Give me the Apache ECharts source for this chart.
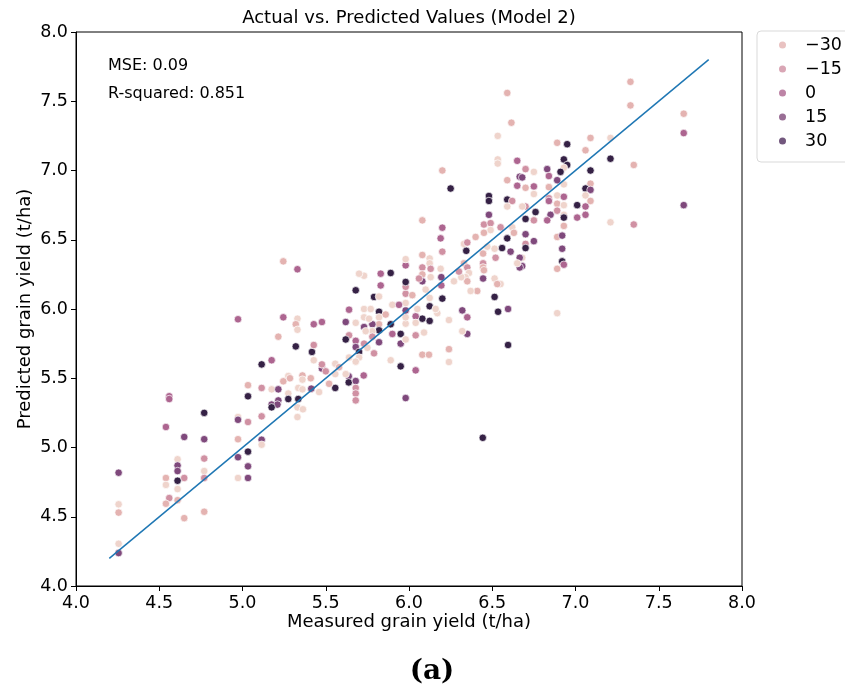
<!DOCTYPE html>
<html><head><meta charset="utf-8">
<script src="https://cdn.jsdelivr.net/npm/echarts@6/dist/echarts.min.js"></script>
<style>html,body{margin:0;padding:0;background:#fff}#c{width:845px;height:690px}</style>
</head><body><div id="c"></div>
<script>
// hue codes: L=-40 very light, P=-30, K=-15, M=0, U=15, X=38 darkest
const L=-40,P=-30,K=-15,M=0,U=15,X=38;
const measured = [6.59,6.615,6.533,6.533,6.533,6.65,6.20,6.25,6.665,6.65,6.48,6.48,6.59,6.59,6.62,6.59,6.48,
7.33,7.33,7.65,7.65,7.65,7.35,7.21,7.21,7.09,7.06,7.09,7.09,7.06,7.09,7.06,7.09,7.01,7.06,7.06,7.01,6.89,6.95,6.93,6.95,6.93,6.91,6.89,6.93,6.84,6.83,6.84,6.75,6.70,6.75,6.70,6.68,6.75,6.84,6.89,6.93,6.89,6.93,6.84,6.89,6.93,6.85,6.76,6.70,6.68,
6.70,6.75,6.83,6.93,7.21,7.35,6.93,6.70,6.75,6.70,6.70,6.89,6.92,6.92,6.92,6.93,6.89,6.89,6.68,6.68,
5.245,5.33,4.973,5.245,5.33,5.32,5.33,5.215,5.32,5.115,5.175,5.275,5.285,5.245,5.033,5.115,5.175,5.215,5.033,5.215,5.275,5.335,5.275,5.335,4.56,4.56,
4.77,4.54,4.65,4.77,4.973,4.973,5.033,5.115,5.175,5.21,5.175,5.33,5.33,5.115,5.115,4.973,5.033,4.973,5.033,5.033,4.973,4.77,4.77,4.77,4.77,4.65,4.65,4.61,4.61,4.61,4.61,4.61,4.61,4.56,4.54,4.54,4.54,4.256,4.256,4.256,4.256,4.256,
6.443,5.363,
6.08,6.20,6.19,6.20,6.45,6.49,6.49,6.45,6.55,6.59,6.62,6.63,6.33,6.35,6.344,6.514,6.559,6.61,6.665,6.665,6.65,6.33,6.35,6.36,6.34,6.35,6.314,6.445,6.445,6.445,6.514,6.55,6.53,6.445,6.41,6.37,6.514,6.595,6.535,6.595,6.32,6.35,6.35,6.32,6.24,6.24,6.24,6.20,6.17,6.194,6.194,6.19,
6.124,6.124,6.13,6.13,6.08,6.08,6.08,6.08,6.10,6.124,6.124,6.16,6.124,6.08,6.04,6.04,6.09,6.04,6.08,6.12,6.04,5.98,5.95,5.95,5.95,5.98,5.90,5.89,
5.98,5.98,5.98,5.98,5.98,5.98,5.98,5.98,5.98,5.89,5.83,5.83,5.73,5.70,5.68,5.79,5.82,5.90,5.94,5.82,5.82,5.82,5.89,5.78,5.82,5.82,5.78,5.78,5.79,5.73,5.75,5.73,5.77,5.73,5.73,5.74,5.68,5.64,5.62,5.64,5.62,5.68,5.68,5.70,5.70,5.68,5.64,5.557,5.557,5.557,5.638,5.638,5.68,5.68,5.68,5.68,5.728,5.62,5.477,5.477,5.428,5.417,5.428,5.428,5.477,5.36,5.41,5.36,5.413,5.36,
5.52,5.50,5.46,5.58,6.02,6.05,6.06,6.45,6.47,6.52,6.40,6.27,6.30,5.86,5.76];
const predicted = [7.56,7.345,7.25,7.08,7.05,7.07,7.00,6.87,6.955,6.89,6.816,6.78,6.79,6.93,6.78,6.74,6.68,
7.64,7.47,7.41,7.27,6.75,7.04,7.085,7.235,7.235,7.146,7.0,6.905,6.87,6.86,6.82,6.78,6.75,6.74,6.68,6.66,7.2,7.19,7.08,7.04,7.02,6.99,6.93,6.90,6.88,7.01,6.96,6.99,7.01,6.885,6.875,6.95,6.83,6.80,6.82,6.81,6.76,6.75,6.78,6.71,6.68,6.68,6.70,6.74,6.74,
6.65,6.64,6.64,6.66,6.626,6.61,6.60,6.54,6.49,6.47,6.44,6.52,6.53,6.435,6.344,6.32,6.29,5.97,6.37,6.31,
6.344,6.287,5.926,5.94,5.93,5.89,5.85,5.80,5.73,5.60,5.63,5.516,5.50,5.478,5.45,5.43,5.42,5.42,5.37,5.34,5.39,5.43,5.35,5.35,5.37,5.35,
5.25,5.148,5.076,5.06,5.22,5.20,5.184,5.225,5.31,5.31,5.29,5.29,5.22,5.056,5.02,5.06,4.97,4.93,4.864,4.78,4.78,4.92,4.83,4.78,4.536,4.49,4.78,4.915,4.87,4.83,4.76,4.70,4.62,4.635,4.594,4.78,4.73,4.818,4.59,4.53,4.305,4.238,
5.07,5.276,
6.64,6.587,6.51,6.414,6.61,6.62,6.57,6.55,6.59,6.51,6.59,6.55,6.47,6.48,6.42,6.435,6.44,6.414,6.37,6.30,6.33,6.33,6.30,6.26,6.23,6.20,6.23,6.40,6.33,6.30,6.22,6.18,6.18,6.22,6.13,6.13,6.087,6.0,5.98,5.74,5.99,5.94,5.82,5.84,5.92,5.71,5.617,6.075,5.97,6.17,6.23,6.29,
6.365,6.33,6.29,6.23,6.39,6.30,6.25,6.20,6.14,6.08,6.02,6.0,5.914,5.93,5.947,5.90,5.83,5.81,5.67,5.67,5.557,5.357,5.586,5.82,5.75,5.78,5.82,5.63,
5.894,5.94,5.99,6.043,6.11,6.16,6.195,6.315,6.36,6.26,6.255,6.17,6.24,6.255,6.135,6.087,6.09,6.03,6.03,5.98,5.94,5.89,5.89,5.89,5.846,5.76,5.84,5.80,5.68,5.75,5.72,6.0,6.0,5.94,5.87,5.84,5.90,5.995,5.906,5.81,5.78,5.77,5.725,5.69,5.65,5.62,5.65,5.605,5.53,5.43,5.514,5.47,5.48,5.43,5.39,5.34,5.52,5.53,5.57,5.60,5.63,5.69,5.74,5.89,5.906,5.52,5.50,5.49,5.425,5.42,
5.46,5.55,5.40,5.58,6.10,6.00,6.22,6.28,6.45,6.37,6.52,6.20,6.27,5.96,5.93];
const hue = [P,P,L,L,L,M,P,X,U,M,X,X,X,P,K,L,U,
P,P,P,M,U,P,X,L,P,P,X,P,X,U,L,P,X,M,M,M,P,X,X,X,L,X,U,L,P,U,M,L,K,M,P,U,L,K,L,M,P,L,M,K,L,U,X,K,L,
X,K,M,X,L,K,P,U,U,K,X,P,U,U,X,M,P,L,L,U,
P,M,M,M,L,P,L,P,X,X,M,L,P,P,P,K,L,U,X,U,L,L,X,X,M,M,
X,M,U,U,L,U,K,K,U,U,X,L,L,U,L,P,X,U,U,U,L,K,L,K,P,P,K,L,U,U,X,L,P,K,P,P,L,U,L,P,L,U,
X,L,
P,M,M,K,K,K,L,P,K,X,L,P,L,K,X,L,X,U,U,U,L,P,K,L,L,P,L,P,K,P,L,L,P,U,P,L,X,U,X,X,U,M,U,L,L,P,L,X,L,M,U,L,
L,L,K,L,P,K,P,U,L,L,X,L,X,X,M,L,L,K,P,P,M,U,X,X,U,L,M,L,
L,L,U,L,K,K,X,M,L,X,M,M,L,L,X,X,L,L,M,X,L,P,X,U,X,U,L,K,K,K,L,L,L,L,U,L,L,M,U,K,X,M,U,X,L,L,L,L,L,X,U,X,U,K,K,K,M,L,U,K,L,X,K,M,M,P,P,L,U,L,
P,K,L,P,P,L,K,P,L,K,P,L,K,P,L];
const lineX = [4.2, 7.8];
const lineY = [4.2, 7.8];
const legendNames = ['\u221230','\u221215','0','15','30'];
const legendColors = ['#e4b3b1','#d090a3','#ad6590','#7f4a7b','#4f2d5c'];

const pts = measured.map((m,i)=>[m, predicted[i], hue[i]]);
const chart = echarts.init(document.getElementById('c'), null, {renderer:'canvas'});
const font = 'DejaVu Sans';
const axisCommon = {
  type:'value', min:4, max:8, interval:0.5,
  axisLine:{show:true, lineStyle:{color:'#000', width:1}},
  axisTick:{show:true, inside:false, length:5, lineStyle:{color:'#000', width:1}},
  axisLabel:{color:'#000', fontSize:17.5, fontFamily:font, margin:8, formatter:v=>v.toFixed(1)},
  splitLine:{show:false},
  nameLocation:'middle',
  nameMoveOverlap:false,
  nameTextStyle:{color:'#000', fontSize:18, fontFamily:font}
};
const series = [{
  type:'scatter', name:'pts', data:pts, symbolSize:7.5,
  itemStyle:{borderColor:'#fff', borderWidth:0.7, opacity:1}, z:2
},{
  type:'line', name:'fit', data:lineX.map((x,i)=>[x,lineY[i]]), symbol:'none', silent:true,
  lineStyle:{color:'#1f77b4', width:1.5}, z:3
}];
legendNames.forEach((n,i)=>series.push({type:'scatter', name:n, data:[], itemStyle:{color:legendColors[i]}}));
chart.setOption({
  animation:false,
  grid:{left:76, right:103, top:32, bottom:104, show:true, borderColor:'#000', borderWidth:1, backgroundColor:'transparent'},
  xAxis:Object.assign({}, axisCommon, {name:'Measured grain yield (t/ha)', nameGap:27}),
  yAxis:Object.assign({}, axisCommon, {name:'Predicted grain yield (t/ha)', nameGap:42}),
  visualMap:{type:'continuous', show:false, seriesIndex:0, dimension:2, min:-40, max:40,
    inRange:{color:['#efd4cc','#e4b3b1','#d99ea9','#c7839d','#ad6590','#8f5284','#6f3f73','#4f2d5c','#2e1e3f']}},
  legend:{data:legendNames, orient:'vertical', left:757, top:31, icon:'circle', itemWidth:7, itemHeight:7,
    itemGap:6, selectedMode:false, padding:[5,20,12,22], borderColor:'#d9d9d9', borderWidth:1, borderRadius:4,
    backgroundColor:'#fff', textStyle:{color:'#000', fontSize:17.5, fontFamily:font, padding:[0,0,0,14]}},
  graphic:[
    {type:'text', style:{text:'Actual vs. Predicted Values (Model 2)', x:409, y:18, font:'18px "DejaVu Sans"', fill:'#000', textAlign:'center', textVerticalAlign:'middle'}},
    {type:'text', style:{text:'MSE: 0.09', x:108, y:66, font:'16px "DejaVu Sans"', fill:'#000', textAlign:'left', textVerticalAlign:'middle'}},
    {type:'text', style:{text:'R-squared: 0.851', x:108, y:94, font:'16px "DejaVu Sans"', fill:'#000', textAlign:'left', textVerticalAlign:'middle'}},
    {type:'text', style:{text:'(a)', x:432, y:672, font:'bold 28px "DejaVu Serif"', fill:'#000', textAlign:'center', textVerticalAlign:'middle'}}
  ],
  series:series
});
</script></body></html>
